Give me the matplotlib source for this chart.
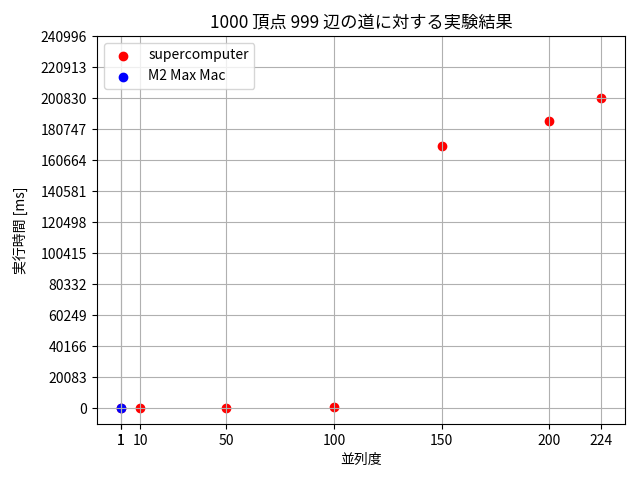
import numpy as np
import matplotlib
matplotlib.use('Agg')
import matplotlib.pyplot as plt

plt.rcParams['font.family'] = ['Noto Sans CJK JP', 'DejaVu Sans']

# dati
sc_threads = [1, 10, 50, 100, 150, 200, 224]
sc_times = [300, 250, 300, 900, 169734, 185932, 200830]
mac_threads = [1]
mac_times = [200]

fig, ax = plt.subplots(figsize=(6.4, 4.8), dpi=100)
ax.scatter(sc_threads, sc_times, color='red', label='supercomputer')
ax.scatter(mac_threads, mac_times, color='blue', label='M2 Max Mac')

ymax = max(sc_times) * 1.2
ax.set_yticks(np.linspace(0, ymax, 13))
ax.set_yticklabels([str(int(round(v))) for v in np.linspace(0, ymax, 13)])
ax.set_ylim(-max(sc_times) * 0.05, ymax)
ax.set_xticks(sc_threads + mac_threads)

ax.set_title('1000 頂点 999 辺の道に対する実験結果', fontsize=12.4)
ax.set_xlabel('並列度')
ax.set_ylabel('実行時間 [ms]', labelpad=9)
ax.legend(loc='upper left')
ax.grid(True)

plt.subplots_adjust(left=97/640, right=625/640, top=1-36/480, bottom=1-424/480)
plt.savefig('out.png', dpi=100)
